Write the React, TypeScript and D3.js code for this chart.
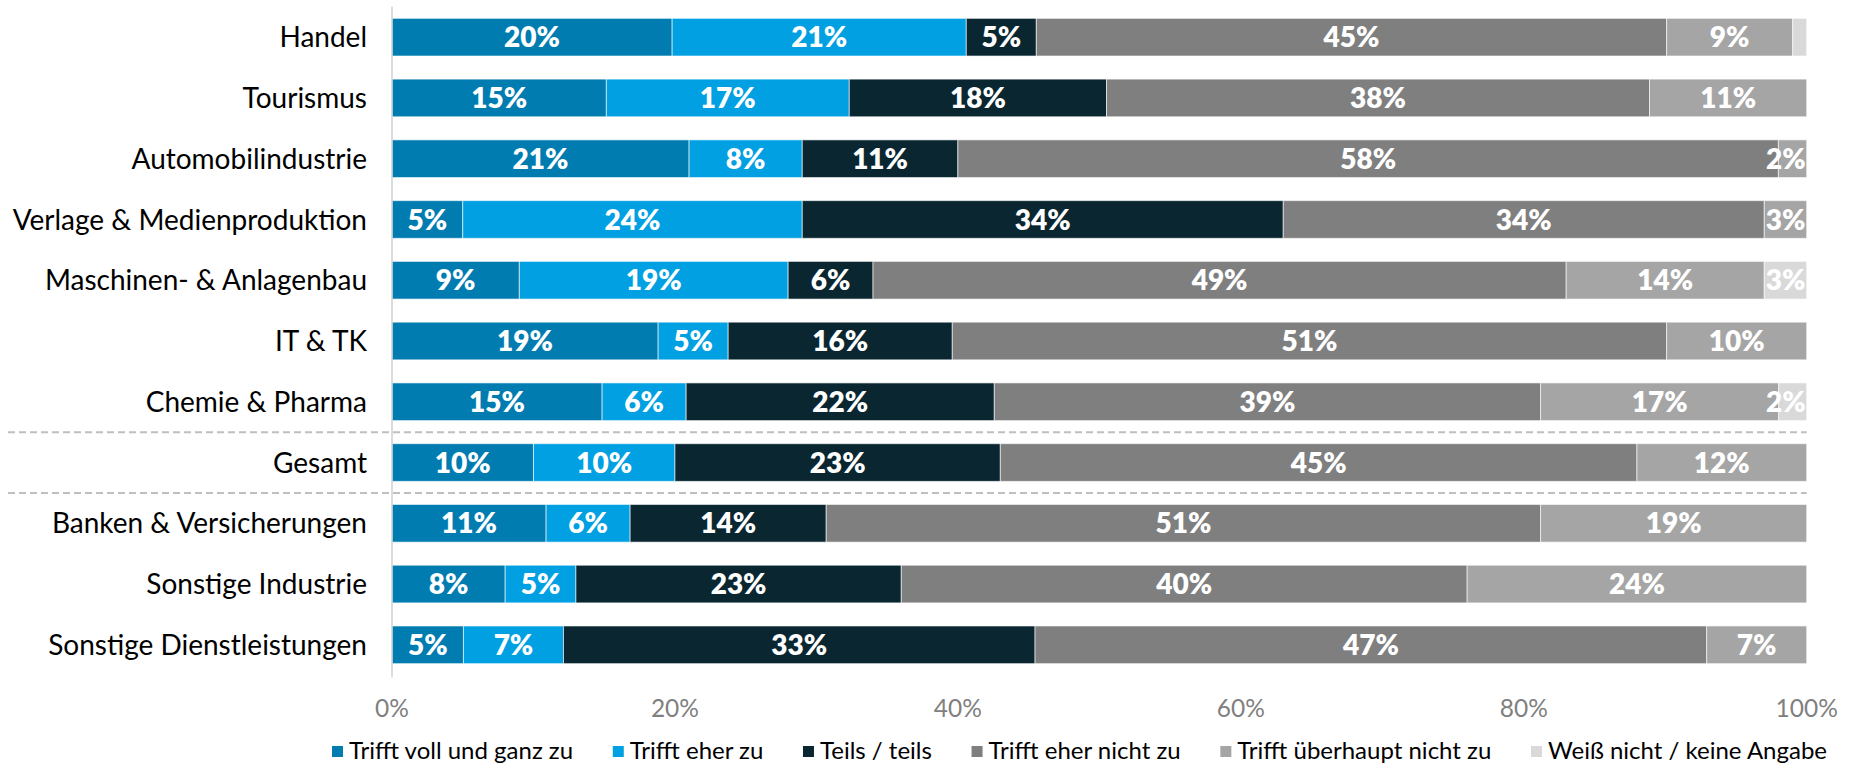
import React, { useEffect, useRef } from "react";
import * as d3 from "d3";

const categories = [
  "Handel",
  "Tourismus",
  "Automobilindustrie",
  "Verlage & Medienproduktion",
  "Maschinen- & Anlagenbau",
  "IT & TK",
  "Chemie & Pharma",
  "Gesamt",
  "Banken & Versicherungen",
  "Sonstige Industrie",
  "Sonstige Dienstleistungen",
];
const seriesNames = [
  "Trifft voll und ganz zu",
  "Trifft eher zu",
  "Teils / teils",
  "Trifft eher nicht zu",
  "Trifft überhaupt nicht zu",
  "Weiß nicht / keine Angabe",
];
const vollUndGanz = [20, 15, 21, 5, 9, 19, 15, 10, 11, 8, 5];
const eherZu = [21, 17, 8, 24, 19, 5, 6, 10, 6, 5, 7];
const teilsTeils = [5, 18, 11, 34, 6, 16, 22, 23, 14, 23, 33];
const eherNicht = [45, 38, 58, 34, 49, 51, 39, 45, 51, 40, 47];
const ueberhauptNicht = [9, 11, 2, 3, 14, 10, 17, 12, 19, 24, 7];
const weissNicht = [1, 0, 0, 0, 3, 0, 2, 0, 0, 0, 0];
const xTicks = [0, 0.2, 0.4, 0.6, 0.8, 1];
const separatorsAfter = ["Chemie & Pharma", "Gesamt"];

const colors = ["#017cb1", "#00a0e2", "#0a2630", "#7f7f7f", "#a5a5a5", "#d9d9d9"];
const FONT = "Lato, 'Open Sans', sans-serif";

export default function App() {
  const ref = useRef<SVGSVGElement>(null);

  useEffect(() => {
    const svg = d3.select(ref.current);
    svg.selectAll("*").remove();

    const W = 1857;
    const H = 763;
    const left = 392;
    const right = 1806.7;
    const top = 6.8;
    const bottom = 675.2;

    const seriesArrays = [vollUndGanz, eherZu, teilsTeils, eherNicht, ueberhauptNicht, weissNicht];
    const rows = categories.map((c, i) => {
      const r: any = { cat: c };
      seriesNames.forEach((s, j) => (r[s] = seriesArrays[j][i]));
      return r;
    });

    const stack = d3.stack<any>().keys(seriesNames).offset(d3.stackOffsetExpand);
    const stacked = stack(rows);

    const x = d3.scaleLinear().domain([0, 1]).range([left, right]);
    const y = d3
      .scaleBand<string>()
      .domain(categories)
      .range([top, bottom])
      .paddingInner(0.38)
      .paddingOuter(0.19);

    // bars
    const g = svg.append("g");
    stacked.forEach((layer, li) => {
      const lg = g.append("g");
      lg.selectAll("rect")
        .data(layer)
        .join("rect")
        .attr("x", (d) => x(d[0]))
        .attr("y", (d) => y(d.data.cat)!)
        .attr("width", (d) => Math.max(0, x(d[1]) - x(d[0])))
        .attr("height", y.bandwidth())
        .attr("fill", colors[li])
        .attr("stroke", "#ffffff")
        .attr("stroke-opacity", 0.6)
        .attr("stroke-width", 1);
    });

    // labels
    stacked.forEach((layer, li) => {
      const vals = seriesArrays[li];
      layer.forEach((d, i) => {
        const v = vals[i];
        if (v < 1.5) return;
        const t = g
          .append("text")
          .attr("y", y(d.data.cat)! + y.bandwidth() / 2)
          .attr("dy", "0.36em")
          .attr("text-anchor", "middle")
          .attr("fill", "#ffffff")
          .attr("font-family", FONT)
          .attr("font-weight", 800)
          .attr("font-size", 28)
          .text(`${v}%`);
        let cx = (x(d[0]) + x(d[1])) / 2;
        const node = t.node() as SVGTextElement;
        const w = node.getComputedTextLength();
        if (cx + w / 2 > right - 1) cx = right - 1 - w / 2;
        t.attr("x", cx);
      });
    });

    // axis line
    svg
      .append("line")
      .attr("x1", left)
      .attr("x2", left)
      .attr("y1", top)
      .attr("y2", bottom + 2)
      .attr("stroke", "#d0d0d0")
      .attr("stroke-width", 1.5);

    // separators
    const step = y.step();
    separatorsAfter.forEach((c) => {
      const yy = y(c)! + y.bandwidth() + (step - y.bandwidth()) / 2;
      svg
        .append("line")
        .attr("x1", 8)
        .attr("x2", right)
        .attr("y1", yy)
        .attr("y2", yy)
        .attr("stroke", "#bfbfbf")
        .attr("stroke-width", 2)
        .attr("stroke-dasharray", "7,4");
    });

    // category labels
    svg
      .append("g")
      .selectAll("text")
      .data(categories)
      .join("text")
      .attr("x", left - 25)
      .attr("y", (d) => y(d)! + y.bandwidth() / 2)
      .attr("dy", "0.36em")
      .attr("text-anchor", "end")
      .attr("fill", "#000000")
      .attr("font-family", FONT)
      .attr("font-size", 28)
      .text((d) => d);

    // x tick labels
    svg
      .append("g")
      .selectAll("text")
      .data(xTicks)
      .join("text")
      .attr("x", (d) => x(d))
      .attr("y", 708)
      .attr("dy", "0.36em")
      .attr("text-anchor", "middle")
      .attr("fill", "#808080")
      .attr("font-family", FONT)
      .attr("font-size", 24.5)
      .text((d) => d3.format(".0%")(d));

    // legend
    const legStart = 332;
    const legEnd = 1827;
    const markerSize = 11;
    const markerGap = 6;
    const lg = svg.append("g");
    const items = seriesNames.map((s, i) => {
      const gi = lg.append("g");
      gi.append("rect")
        .attr("width", markerSize)
        .attr("height", markerSize)
        .attr("y", 746)
        .attr("fill", colors[i]);
      const t = gi
        .append("text")
        .attr("x", markerSize + markerGap)
        .attr("y", 751)
        .attr("dy", "0.33em")
        .attr("fill", "#000000")
        .attr("font-family", FONT)
        .attr("font-size", 24)
        .text(s);
      const w = (t.node() as SVGTextElement).getComputedTextLength();
      return { gi, w: markerSize + markerGap + w };
    });
    const total = d3.sum(items, (d) => d.w);
    const gap = (legEnd - legStart - total) / (items.length - 1);
    let cur = legStart;
    items.forEach((it) => {
      it.gi.attr("transform", `translate(${cur},0)`);
      cur += it.w + gap;
    });

    svg.attr("width", W).attr("height", H);
  }, []);

  return (
    <svg
      ref={ref}
      width={1857}
      height={763}
      style={{ position: "fixed", left: 0, top: 0, background: "#ffffff" }}
    />
  );
}
